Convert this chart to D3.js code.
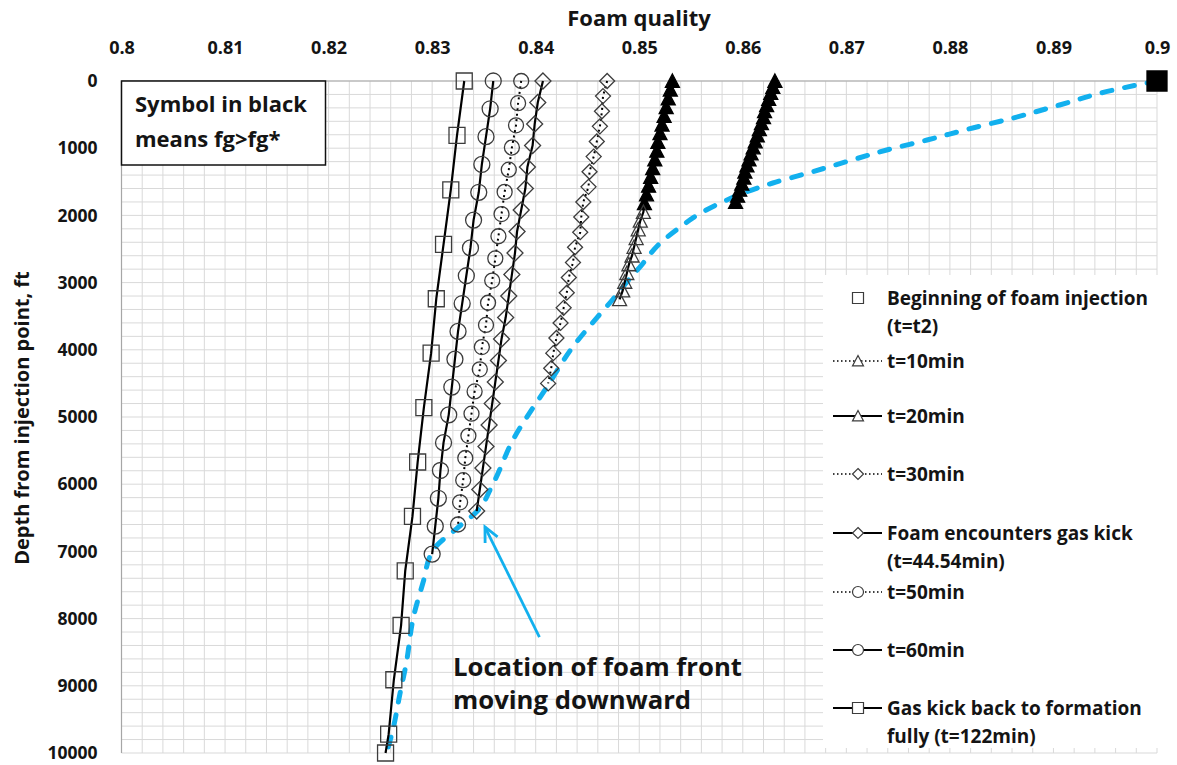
<!DOCTYPE html>
<html>
<head>
<meta charset="utf-8">
<script src="https://cdn.jsdelivr.net/npm/d3@7"></script>
<style>
  html, body { margin: 0; padding: 0; background: #ffffff; }
  svg { display: block; font-family: "Open Sans", Lato, sans-serif; font-weight: 700; }
</style>
</head>
<body>
<svg id="chart" width="1177" height="765"></svg>
<script>
// ---- axis ticks ----
const qualityTicks = [0.80, 0.81, 0.82, 0.83, 0.84, 0.85, 0.86, 0.87, 0.88, 0.89, 0.90];
const qualityTickLabels = ["0.8", "0.81", "0.82", "0.83", "0.84", "0.85", "0.86", "0.87", "0.88", "0.89", "0.9"];
const depthTicks = [0, 1000, 2000, 3000, 4000, 5000, 6000, 7000, 8000, 9000, 10000];
const depthTickLabels = ["0", "1000", "2000", "3000", "4000", "5000", "6000", "7000", "8000", "9000", "10000"];

// ---- foam quality profiles (depth in ft, quality fraction) ----
const depthBegin = [0];
const qualityBegin = [0.9000];

const depthT10 = [0, 90, 180, 270, 360, 450, 540, 630, 720, 810, 900, 990, 1080, 1170, 1260, 1350, 1440, 1530, 1620, 1710, 1800];
const qualityT10 = [0.8631, 0.8629, 0.8627, 0.8625, 0.8623, 0.8621, 0.8620, 0.8618, 0.8616, 0.8614, 0.8612, 0.8610, 0.8608, 0.8606, 0.8604, 0.8602, 0.8601, 0.8599, 0.8597, 0.8595, 0.8593];

const depthT20 = [0, 130, 260, 390, 520, 650, 780, 910, 1040, 1170, 1300, 1430, 1560, 1690, 1820, 1950, 2080, 2210, 2340, 2470, 2600, 2730, 2860, 2990, 3120, 3250];
const qualityT20 = [0.8532, 0.8530, 0.8528, 0.8526, 0.8524, 0.8522, 0.8520, 0.8518, 0.8517, 0.8515, 0.8513, 0.8511, 0.8509, 0.8507, 0.8505, 0.8504, 0.8501, 0.8499, 0.8497, 0.8495, 0.8493, 0.8490, 0.8488, 0.8486, 0.8484, 0.8481];

const depthT30 = [0, 225, 450, 675, 900, 1125, 1350, 1575, 1800, 2025, 2250, 2475, 2700, 2925, 3150, 3375, 3600, 3825, 4050, 4275, 4500];
const qualityT30 = [0.8469, 0.8465, 0.8464, 0.8462, 0.8459, 0.8456, 0.8452, 0.8451, 0.8446, 0.8444, 0.8443, 0.8438, 0.8436, 0.8432, 0.8430, 0.8427, 0.8424, 0.8420, 0.8417, 0.8415, 0.8412];

const depthT44 = [0, 320, 640, 960, 1280, 1600, 1920, 2240, 2560, 2880, 3200, 3520, 3840, 4160, 4480, 4800, 5120, 5440, 5760, 6080, 6400];
const qualityT44 = [0.8407, 0.8402, 0.8399, 0.8397, 0.8392, 0.8390, 0.8386, 0.8382, 0.8380, 0.8377, 0.8374, 0.8371, 0.8367, 0.8364, 0.8361, 0.8358, 0.8355, 0.8352, 0.8349, 0.8346, 0.8343];

const depthT50 = [0, 330, 660, 990, 1320, 1650, 1980, 2310, 2640, 2970, 3300, 3630, 3960, 4290, 4620, 4950, 5280, 5610, 5940, 6270, 6600];
const qualityT50 = [0.8386, 0.8383, 0.8381, 0.8377, 0.8374, 0.8370, 0.8367, 0.8364, 0.8361, 0.8358, 0.8354, 0.8352, 0.8348, 0.8346, 0.8341, 0.8338, 0.8335, 0.8332, 0.8330, 0.8327, 0.8325];

const depthT60 = [0, 414, 828, 1242, 1656, 2070, 2484, 2898, 3312, 3726, 4140, 4554, 4968, 5382, 5796, 6210, 6624, 7040];
const qualityT60 = [0.8359, 0.8356, 0.8352, 0.8348, 0.8345, 0.8340, 0.8337, 0.8333, 0.8329, 0.8325, 0.8322, 0.8319, 0.8316, 0.8311, 0.8308, 0.8306, 0.8303, 0.8300];

const depthT122 = [0, 810, 1620, 2430, 3240, 4050, 4860, 5670, 6480, 7290, 8100, 8910, 9720, 10000];
const qualityT122 = [0.8331, 0.8324, 0.8318, 0.8311, 0.8304, 0.8299, 0.8292, 0.8286, 0.8281, 0.8274, 0.8270, 0.8263, 0.8258, 0.8255];

// foam front position as it moves down the well
const depthFront = [0, 159, 357, 551, 699, 878, 1027, 1201, 1374, 1518, 1671, 1796, 1969, 2192, 2415, 2763, 3010, 3259, 3507, 3954, 4549, 5342, 5987, 6409, 6656, 6979, 7475, 7972, 8665, 9112, 9658, 10000];
const qualityFront = [0.9000, 0.8951, 0.8906, 0.8861, 0.8822, 0.8778, 0.8739, 0.8700, 0.8662, 0.8629, 0.8600, 0.8581, 0.8559, 0.8538, 0.8520, 0.8501, 0.8487, 0.8474, 0.8460, 0.8436, 0.8411, 0.8378, 0.8359, 0.8343, 0.8324, 0.8301, 0.8291, 0.8282, 0.8275, 0.8269, 0.8262, 0.8256];

// depth down to which fg > fg* (symbol drawn in black); -1 = never
const fgAboveDepthBegin = 0;
const fgAboveDepthT10 = 1800;
const fgAboveDepthT20 = 1820;

// ---- layout ----
const svg = d3.select("#chart");
const plot = { left: 121.5, right: 1157, top: 81, bottom: 753 };
const x = d3.scaleLinear().domain([0.8, 0.9]).range([plot.left, plot.right]);
const y = d3.scaleLinear().domain([0, 10000]).range([plot.top, plot.bottom]);

const zip = (ds, qs) => ds.map((d, i) => ({ d: d, q: qs[i] }));

const series = [
  { label: ["Beginning of foam injection", "(t=t2)"], data: zip(depthBegin, qualityBegin), shape: "square", size: 20, line: null, black: fgAboveDepthBegin },
  { label: ["t=10min"], data: zip(depthT10, qualityT10), shape: "triangle", size: 14, line: "dot", black: fgAboveDepthT10 },
  { label: ["t=20min"], data: zip(depthT20, qualityT20), shape: "triangle", size: 14, line: "solid", black: fgAboveDepthT20 },
  { label: ["t=30min"], data: zip(depthT30, qualityT30), shape: "diamond", size: 15, line: "dot", black: -1 },
  { label: ["Foam encounters gas kick", "(t=44.54min)"], data: zip(depthT44, qualityT44), shape: "diamond", size: 16, line: "solid", black: -1 },
  { label: ["t=50min"], data: zip(depthT50, qualityT50), shape: "circle", size: 15, line: "dot", black: -1 },
  { label: ["t=60min"], data: zip(depthT60, qualityT60), shape: "circle", size: 16, line: "solid", black: -1 },
  { label: ["Gas kick back to formation", "fully (t=122min)"], data: zip(depthT122, qualityT122), shape: "square", size: 16, line: "solid", black: -1 }
];

function markerPath(shape, s) {
  const h = s / 2;
  switch (shape) {
    case "square": return `M${-h},${-h}H${h}V${h}H${-h}Z`;
    case "diamond": return `M0,${-h}L${h},0L0,${h}L${-h},0Z`;
    case "triangle": return `M0,${-h}L${h},${h * 0.9}L${-h},${h * 0.9}Z`;
    default: return d3.symbol(d3.symbolCircle, Math.PI * h * h)();
  }
}

const dash = { dot: "2,3.5", solid: null };
const frontBlue = "#12b0ee";
const ink = "#141414";

// ---- grid ----
const grid = svg.append("g").attr("class", "grid");
grid.selectAll("line.v").data(x.ticks(50)).join("line")
  .attr("x1", d => x(d)).attr("x2", d => x(d))
  .attr("y1", plot.top).attr("y2", plot.bottom)
  .attr("stroke", "#d9d9d9").attr("stroke-width", 1);
grid.selectAll("line.h").data(y.ticks(50)).join("line")
  .attr("x1", plot.left).attr("x2", plot.right)
  .attr("y1", d => y(d)).attr("y2", d => y(d))
  .attr("stroke", "#d9d9d9").attr("stroke-width", 1);

// axis lines along the top and left edges
svg.append("line").attr("x1", plot.left).attr("x2", plot.right)
  .attr("y1", plot.top).attr("y2", plot.top).attr("stroke", "#a6a6a6").attr("stroke-width", 1.2);
svg.append("line").attr("x1", plot.left).attr("x2", plot.left)
  .attr("y1", plot.top).attr("y2", plot.bottom).attr("stroke", "#a6a6a6").attr("stroke-width", 1.2);

// ---- axes ----
const xAxis = d3.axisTop(x).tickValues(qualityTicks).tickSize(0).tickPadding(27)
  .tickFormat((d, i) => qualityTickLabels[i]);
const gx = svg.append("g").attr("transform", `translate(0,${plot.top})`).call(xAxis);
const yAxis = d3.axisLeft(y).tickValues(depthTicks).tickSize(0).tickPadding(24)
  .tickFormat((d, i) => depthTickLabels[i]);
const gy = svg.append("g").attr("transform", `translate(${plot.left},0)`).call(yAxis);
[gx, gy].forEach(g => {
  g.select(".domain").remove();
  g.selectAll("text").attr("font-family", "'Open Sans', sans-serif").attr("font-weight", 700)
    .attr("font-size", 17.5).attr("fill", ink);
});
gx.selectAll("text").attr("font-size", 18);

svg.append("text").attr("x", 639).attr("y", 26).attr("text-anchor", "middle")
  .attr("font-size", 22).attr("fill", ink).text("Foam quality");
svg.append("text").attr("transform", "translate(29,418) rotate(-90)").attr("text-anchor", "middle")
  .attr("font-size", 20).attr("fill", ink).text("Depth from injection point, ft");

// ---- foam front (dashed) ----
const lineGen = d3.line().x(p => x(p.q)).y(p => y(p.d));
svg.append("path").datum(zip(depthFront, qualityFront))
  .attr("d", lineGen.curve(d3.curveMonotoneY))
  .attr("fill", "none").attr("stroke", frontBlue).attr("stroke-width", 5)
  .attr("stroke-linecap", "round").attr("stroke-dasharray", "10,13");

// ---- profile lines and markers ----
const straight = d3.line().x(p => x(p.q)).y(p => y(p.d));
series.forEach(s => {
  if (s.line) {
    svg.append("path").datum(s.data).attr("d", straight)
      .attr("fill", "none").attr("stroke", "#000").attr("stroke-width", s.line === "dot" ? 2 : 2.2)
      .attr("stroke-dasharray", dash[s.line]);
  }
  svg.append("g").selectAll("path").data(s.data).join("path")
    .attr("transform", p => `translate(${x(p.q)},${y(p.d)})`)
    .attr("d", markerPath(s.shape, s.size))
    .attr("fill", p => (p.d <= s.black ? "#000" : "none"))
    .attr("stroke", p => (p.d <= s.black ? "#000" : "#3c3c3c"))
    .attr("stroke-width", 1.3);
});

// ---- annotation: arrow to the foam front ----
const arrowTail = { q: 0.84036, d: 8274 };
const arrowTip = { q: 0.83510, d: 6637 };
const ax0 = x(arrowTail.q), ay0 = y(arrowTail.d), ax1 = x(arrowTip.q), ay1 = y(arrowTip.d);
svg.append("line").attr("x1", ax0).attr("y1", ay0).attr("x2", ax1).attr("y2", ay1)
  .attr("stroke", frontBlue).attr("stroke-width", 2.8);
const ang = Math.atan2(ay1 - ay0, ax1 - ax0), headLen = 16, spread = 0.45;
svg.append("path")
  .attr("d", `M${ax1 - headLen * Math.cos(ang - spread)},${ay1 - headLen * Math.sin(ang - spread)}L${ax1},${ay1}L${ax1 - headLen * Math.cos(ang + spread)},${ay1 - headLen * Math.sin(ang + spread)}`)
  .attr("fill", "none").attr("stroke", frontBlue).attr("stroke-width", 2.8).attr("stroke-linejoin", "miter");

svg.append("text").attr("x", 453).attr("y", 676).attr("font-size", 25.7).attr("fill", ink)
  .text("Location of foam front");
svg.append("text").attr("x", 453).attr("y", 709).attr("font-size", 25.7).attr("fill", ink)
  .text("moving downward");

// ---- note box ----
svg.append("rect").attr("x", plot.left).attr("y", plot.top).attr("width", 204).attr("height", 84)
  .attr("fill", "#fff").attr("stroke", "#111").attr("stroke-width", 1.5);
svg.append("text").attr("x", 135).attr("y", 112).attr("font-size", 22).attr("fill", ink).text("Symbol in black");
svg.append("text").attr("x", 135).attr("y", 147).attr("font-size", 22).attr("fill", ink).text("means fg>fg*");

// ---- legend ----
const legend = svg.append("g");
legend.append("rect").attr("x", 823).attr("y", 275).attr("width", 340).attr("height", 473).attr("fill", "#fff");
const legendRows = [298, 361, 416, 474, 533, 592, 650, 708];
series.forEach((s, i) => {
  const cy = legendRows[i];
  if (s.line) {
    legend.append("line").attr("x1", 833).attr("x2", 882).attr("y1", cy).attr("y2", cy)
      .attr("stroke", "#000").attr("stroke-width", s.line === "dot" ? 1.5 : 2.2)
      .attr("stroke-dasharray", s.line === "dot" ? "1.5,2.5" : null);
  }
  legend.append("path").attr("transform", `translate(858,${cy})`)
    .attr("d", markerPath(s.shape, 11)).attr("fill", "#fff").attr("stroke", "#3c3c3c").attr("stroke-width", 1.2);
  s.label.forEach((t, j) => {
    legend.append("text").attr("x", 887).attr("y", cy + 7 + j * 28).attr("font-size", 19)
      .attr("fill", ink).text(t);
  });
});
</script>
</body>
</html>
